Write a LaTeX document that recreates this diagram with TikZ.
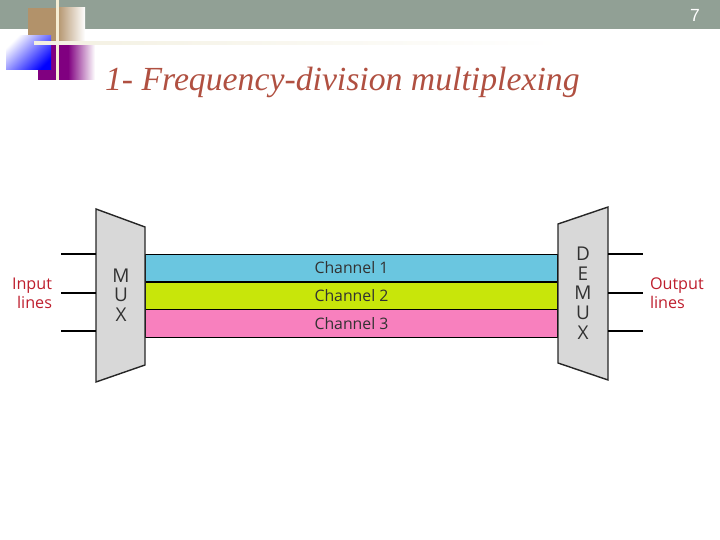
\documentclass[tikz,border=0pt]{standalone}
\usepackage{fontspec}
\setmainfont{Liberation Serif}
\setsansfont{Open Sans}
\newfontfamily\pagefont{Liberation Sans}
\usetikzlibrary{positioning}
\definecolor{headbar}{RGB}{145,160,149}
\definecolor{boxgray}{RGB}{216,216,216}
\definecolor{chanblue}{RGB}{106,198,224}
\definecolor{changreen}{RGB}{200,230,10}
\definecolor{chanpink}{RGB}{248,128,190}
\definecolor{labelred}{RGB}{190,30,45}
\definecolor{titlered}{RGB}{176,80,65}
\definecolor{tanbox}{RGB}{178,146,106}
\definecolor{creamline}{RGB}{243,240,225}
\definecolor{creamcross}{RGB}{246,238,212}
\definecolor{purplebox}{RGB}{128,0,128}
\definecolor{labeltext}{RGB}{50,50,50}
\begin{document}
\begin{tikzpicture}[x=0.02cm,y=-0.02cm,semithick,
  every node/.style={inner sep=0pt,outer sep=0pt},
  chan/.style={draw=black,line width=0.7pt,text=labeltext,minimum width=8.26cm,minimum height=0.55cm,font=\sffamily\fontsize{9}{10}\selectfont},
  wire/.style={black,line width=0.9pt},
  muxbox/.style={draw=black!85,fill=boxgray,line width=0.8pt},
  muxtext/.style={align=center,text=labeltext,font=\sffamily\fontsize{10.8}{11.2}\selectfont},
  linetext/.style={text=labelred,font=\sffamily\fontsize{9.2}{11}\selectfont}]
\useasboundingbox (0,0) rectangle (720,540);
\fill[headbar] (0,0) rectangle (720,29);
\node[text=white,font=\pagefont\fontsize{10}{11}\selectfont] (pagenum) at (695,15) {7};
% corner squares
\fill[tanbox] (28,8) rectangle (57,41);
\shade[left color=tanbox,right color=white] (57,8) rectangle (85,41);
\fill[purplebox] (38,45) rectangle (68,80);
\shade[left color=purplebox,right color=white] (68,45) rectangle (95,80);
\shade[shading=axis,left color=white,right color=blue,shading angle=45] (6,36) rectangle (51,70);
\fill[creamcross] (56,0) rectangle (59,80);
\shade[left color=creamline,right color=white] (34,42) rectangle (560,45);
\node[anchor=west,text=titlered,font=\itshape\fontsize{19.2}{22}\selectfont] (title) at (105,82) {1- Frequency-division multiplexing};
% channels
\node[chan,fill=chanblue] (ch1) at (351.5,268) {Channel 1};
\node[chan,fill=changreen] (ch2) at (351.5,296) {Channel 2};
\node[chan,fill=chanpink] (ch3) at (351.5,323.5) {Channel 3};
% mux and demux
\draw[muxbox] (96,209) -- (145,227) -- (145,365) -- (96,382) -- cycle;
\draw[muxbox] (558,224) -- (608,207) -- (608,380) -- (558,363) -- cycle;
\node[muxtext] (mux) at (121,295) {M\\U\\X};
\node[muxtext] (demux) at (583,293) {D\\E\\M\\U\\X};
\foreach \n/\y in {1/254,2/293,3/331}{
  \coordinate (in\n) at (61,\y);
  \coordinate (mi\n) at (96,\y);
  \coordinate (out\n) at (643,\y);
  \coordinate (mo\n) at (608,\y);
  \draw[wire] (in\n) -- (mi\n);
  \draw[wire] (mo\n) -- (out\n);
}
\node[linetext,align=right,anchor=east] (inlines) at (52,293) {Input\\lines};
\node[linetext,align=left,anchor=west] (outlines) at (650,293) {Output\\lines};
\end{tikzpicture}
\end{document}
